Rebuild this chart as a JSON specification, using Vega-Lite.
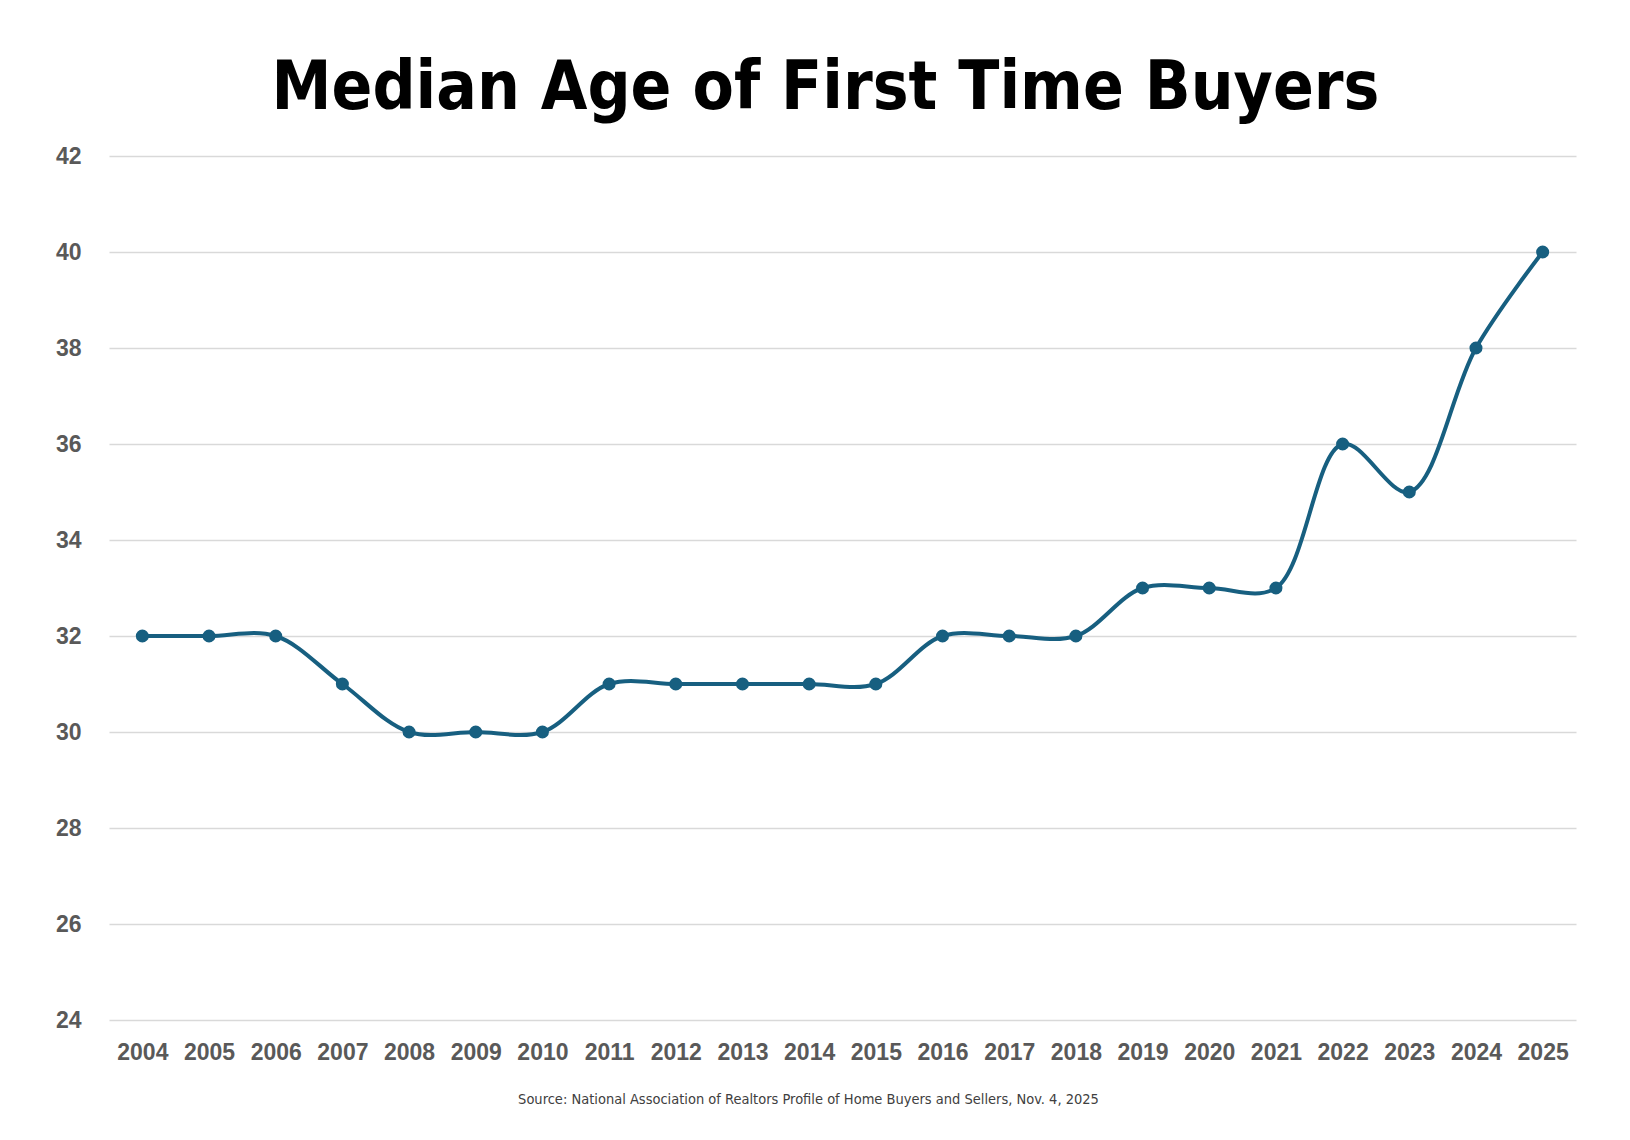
{
  "$schema": "https://vega.github.io/schema/vega-lite/v6.json",
  "width": 1467,
  "height": 864,
  "autosize": "none",
  "padding": {"left": 109, "top": 156, "right": 54, "bottom": 120},
  "background": "white",
  "title": {
    "text": "Median Age of First Time Buyers",
    "font": "DejaVu Sans Condensed, sans-serif",
    "fontSize": 67,
    "fontWeight": "bold",
    "color": "#000000",
    "anchor": "middle",
    "frame": "group",
    "dx": -17,
    "dy": 78,
    "baseline": "alphabetic",
    "offset": 47
  },
  "data": {
    "values": [
      {"year": "2004", "age": 32},
      {"year": "2005", "age": 32},
      {"year": "2006", "age": 32},
      {"year": "2007", "age": 31},
      {"year": "2008", "age": 30},
      {"year": "2009", "age": 30},
      {"year": "2010", "age": 30},
      {"year": "2011", "age": 31},
      {"year": "2012", "age": 31},
      {"year": "2013", "age": 31},
      {"year": "2014", "age": 31},
      {"year": "2015", "age": 31},
      {"year": "2016", "age": 32},
      {"year": "2017", "age": 32},
      {"year": "2018", "age": 32},
      {"year": "2019", "age": 33},
      {"year": "2020", "age": 33},
      {"year": "2021", "age": 33},
      {"year": "2022", "age": 36},
      {"year": "2023", "age": 35},
      {"year": "2024", "age": 38},
      {"year": "2025", "age": 40}
    ]
  },
  "encoding": {
    "x": {
      "field": "year",
      "type": "ordinal",
      "scale": {"type": "point", "padding": 0.5},
      "axis": {
        "title": "Source: National Association of Realtors Profile of Home Buyers and Sellers, Nov. 4, 2025",
        "titleFont": "DejaVu Sans Condensed, sans-serif",
        "titleFontSize": 14.5,
        "titleFontWeight": "normal",
        "titleColor": "#404040",
        "titlePadding": 28,
        "titleX": 699,
        "titleAlign": "center",
        "labelAngle": 0,
        "labelPadding": 21,
        "domain": false,
        "ticks": false,
        "grid": false
      }
    },
    "y": {
      "field": "age",
      "type": "quantitative",
      "scale": {"domain": [24, 42], "nice": false, "zero": false},
      "axis": {
        "title": null,
        "values": [24, 26, 28, 30, 32, 34, 36, 38, 40, 42],
        "labelPadding": 28,
        "domain": false,
        "ticks": false,
        "grid": true,
        "gridColor": "#d9d9d9",
        "gridWidth": 1.5
      }
    }
  },
  "layer": [
    {
      "mark": {"type": "line", "interpolate": "catmull-rom", "color": "#175F80", "strokeWidth": 4}
    },
    {
      "mark": {"type": "point", "filled": true, "color": "#175F80", "size": 170, "opacity": 1}
    }
  ],
  "config": {
    "view": {"stroke": null},
    "axis": {
      "labelFont": "Liberation Sans, Arial, sans-serif",
      "labelFontSize": 23,
      "labelFontWeight": "bold",
      "labelColor": "#595959"
    }
  }
}
